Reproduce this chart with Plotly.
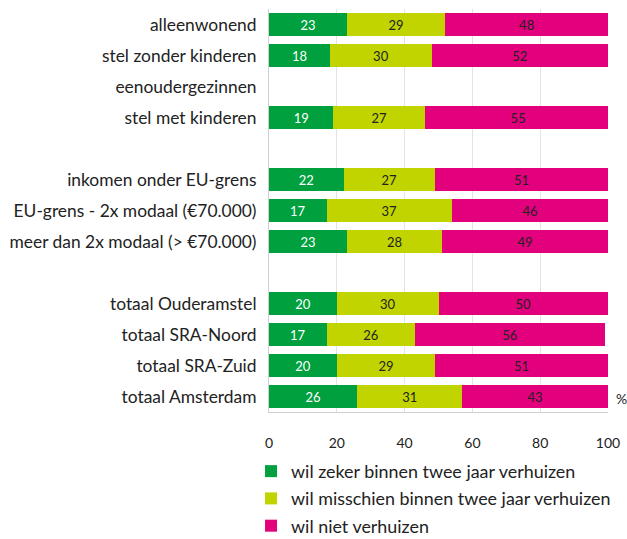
import plotly.graph_objects as go

categories = ["alleenwonend", "stel zonder kinderen", "eenoudergezinnen", "stel met kinderen", " ",
              "inkomen onder EU-grens", "EU-grens - 2x modaal (€70.000)", "meer dan 2x modaal (> €70.000)", "  ",
              "totaal Ouderamstel", "totaal SRA-Noord", "totaal SRA-Zuid", "totaal Amsterdam"]
zeker = [23, 18, None, 19, None, 22, 17, 23, None, 20, 17, 20, 26]
misschien = [29, 30, None, 27, None, 27, 37, 28, None, 30, 26, 29, 31]
niet = [48, 52, None, 55, None, 51, 46, 49, None, 50, 56, 51, 43]
series_names = ["wil zeker binnen twee jaar verhuizen", "wil misschien binnen twee jaar verhuizen", "wil niet verhuizen"]
colors = ["#00a03e", "#c1d400", "#e3007d"]
text_colors = ["white", "#222222", "#222222"]
ticks = [0, 20, 40, 60, 80, 100]

FONT = "Lato"
fig = go.Figure()
for i, (name, vals, col, tc) in enumerate(zip(series_names, [zeker, misschien, niet], colors, text_colors)):
    fig.add_trace(go.Bar(
        y=categories, x=vals, name=name, orientation="h", legendgroup=f"g{i}",
        marker=dict(color=col, line=dict(width=0)),
        texttemplate="%{x}", textposition="inside", insidetextanchor="middle",
        textfont=dict(color=tc, size=13, family=FONT),
    ))

fig.update_layout(
    barmode="stack", bargap=0.24,
    width=627, height=539,
    margin=dict(l=269, r=19, t=9, b=127, autoexpand=False),
    plot_bgcolor="white", paper_bgcolor="white",
    font=dict(family=FONT, size=17, color="#222222"),
    uniformtext=dict(minsize=8, mode="show"),
    xaxis=dict(range=[0, 100], tickvals=ticks, showgrid=True, gridcolor="#e3e3e3", gridwidth=1,
               showline=True, linecolor="#d0d0d0", zeroline=False, automargin=False,
               tickfont=dict(size=14, family=FONT), ticklabelstandoff=18, fixedrange=True),
    yaxis=dict(categoryorder="array", categoryarray=categories, autorange="reversed",
               showline=True, linecolor="#d0d0d0", ticks="", ticklabelstandoff=8, automargin=False,
               tickfont=dict(size=17.4, family=FONT)),
    legend=dict(orientation="v", x=-0.053, xanchor="left", xref="paper",
                y=(539 - 453) / 539, yanchor="top", yref="container",
                font=dict(size=17.9, family=FONT), traceorder="grouped", itemsizing="constant",
                tracegroupgap=1),
    showlegend=True,
)
fig.add_annotation(text="%", xref="paper", yref="y", x=1, y="totaal Amsterdam", xanchor="left",
                   xshift=6, yshift=-2, showarrow=False, font=dict(size=14, family=FONT))
fig.write_html("out.html", config={"displayModeBar": False},
               post_script="document.body.style.margin='0';")
